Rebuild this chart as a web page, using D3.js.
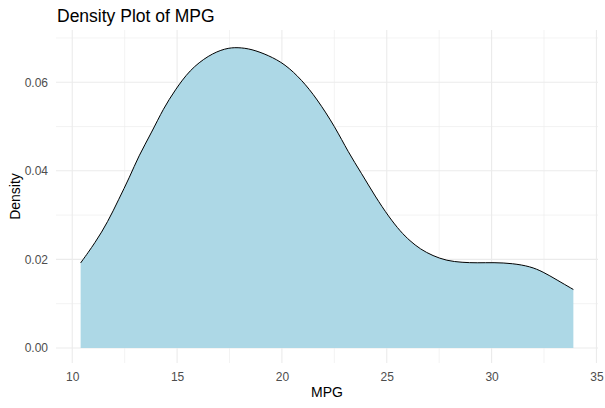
<!DOCTYPE html>
<html>
<head>
<meta charset="utf-8">
<script src="https://cdn.jsdelivr.net/npm/d3@7"></script>
<style>
  body { margin: 0; background: #fff; }
  text { font-family: "Liberation Sans", Arial, sans-serif; }
</style>
</head>
<body>
<svg id="chart" width="605" height="408"></svg>
<script>
// density curve (mpg, density)
const mpg = [10.4, 11.1, 11.7, 12.2, 12.75, 13.15, 13.8, 14.35, 14.9, 15.6, 16.5, 17.3, 17.9,
  18.55, 19.35, 20.15, 20.95, 21.65, 22.55, 23.15, 23.8, 24.45, 25.1, 25.65, 26.1, 26.6,
  27.2, 27.85, 28.6, 29.3, 30.1, 31.0, 31.85, 32.45, 33.1, 33.9]
const density = [0.0192, 0.0238, 0.0285, 0.0334, 0.0387, 0.0432, 0.0488, 0.0541, 0.0582,
  0.0628, 0.0661, 0.0677, 0.0679, 0.0675, 0.0661, 0.0641, 0.0605, 0.0564, 0.0498, 0.0443,
  0.0394, 0.0342, 0.0296, 0.0263, 0.0242, 0.0223, 0.0208, 0.0197, 0.0193, 0.0192, 0.0193,
  0.0191, 0.0184, 0.0172, 0.0154, 0.0132]

const xTicks = [10, 15, 20, 25, 30, 35]
const xMinor = [12.5, 17.5, 22.5, 27.5, 32.5]
const yTicks = [0, 0.02, 0.04, 0.06]
const yMinor = [0.01, 0.03, 0.05, 0.07]

const svg = d3.select('#chart')
const panel = { left: 56, right: 598, top: 30, bottom: 363 }

const x = d3.scaleLinear().domain([9.225, 35.075]).range([panel.left, panel.right])
const y = d3.scaleLinear().domain([-0.0034, 0.0718]).range([panel.bottom, panel.top])

const points = mpg.map((m, i) => ({ m, d: density[i] }))

// grid
const grid = svg.append('g')
const vLines = (vals, w) => grid.selectAll(null).data(vals).enter().append('line')
    .attr('x1', d => x(d)).attr('x2', d => x(d))
    .attr('y1', panel.top).attr('y2', panel.bottom)
    .style('stroke', '#ebebeb').style('stroke-width', w)
const hLines = (vals, w) => grid.selectAll(null).data(vals).enter().append('line')
    .attr('y1', d => y(d)).attr('y2', d => y(d))
    .attr('x1', panel.left).attr('x2', panel.right)
    .style('stroke', '#ebebeb').style('stroke-width', w)
vLines(xMinor, 0.6)
hLines(yMinor, 0.6)
vLines(xTicks, 1.1)
hLines(yTicks, 1.1)

// density area + upper outline
const area = d3.area()
    .x(p => x(p.m))
    .y0(y(0))
    .y1(p => y(p.d))
    .curve(d3.curveBasis)

const line = d3.line()
    .x(p => x(p.m))
    .y(p => y(p.d))
    .curve(d3.curveBasis)

svg.append('path')
    .datum(points)
    .attr('d', area)
    .style('fill', '#add8e6')

svg.append('path')
    .datum(points)
    .attr('d', line)
    .style('fill', 'none')
    .style('stroke', '#000')
    .style('stroke-width', 1)

// axes (no lines, labels only)
const xAxis = svg.append('g')
    .attr('transform', `translate(0, ${panel.bottom})`)
    .call(d3.axisBottom(x).tickValues(xTicks).tickSize(0).tickPadding(9)
        .tickFormat(d3.format('d')))
xAxis.select('.domain').remove()
xAxis.selectAll('text')
    .style('font-size', '12px').style('fill', '#4d4d4d')
    .style('font-family', '"Liberation Sans", Arial, sans-serif')

const yAxis = svg.append('g')
    .attr('transform', `translate(${panel.left}, 0)`)
    .call(d3.axisLeft(y).tickValues(yTicks).tickSize(0).tickPadding(8)
        .tickFormat(d3.format('.2f')))
yAxis.select('.domain').remove()
yAxis.selectAll('text')
    .style('font-size', '12px').style('fill', '#4d4d4d')
    .style('font-family', '"Liberation Sans", Arial, sans-serif')

// titles
svg.append('text')
    .attr('x', panel.left + 1).attr('y', 22)
    .style('font-size', '17.5px').style('fill', '#000')
    .text('Density Plot of MPG')

svg.append('text')
    .attr('x', (panel.left + panel.right) / 2).attr('y', 397)
    .attr('text-anchor', 'middle')
    .style('font-size', '14px').style('fill', '#000')
    .text('MPG')

svg.append('text')
    .attr('transform', `translate(20, ${(panel.top + panel.bottom) / 2}) rotate(-90)`)
    .attr('text-anchor', 'middle')
    .style('font-size', '14px').style('fill', '#000')
    .text('Density')
</script>
</body>
</html>
